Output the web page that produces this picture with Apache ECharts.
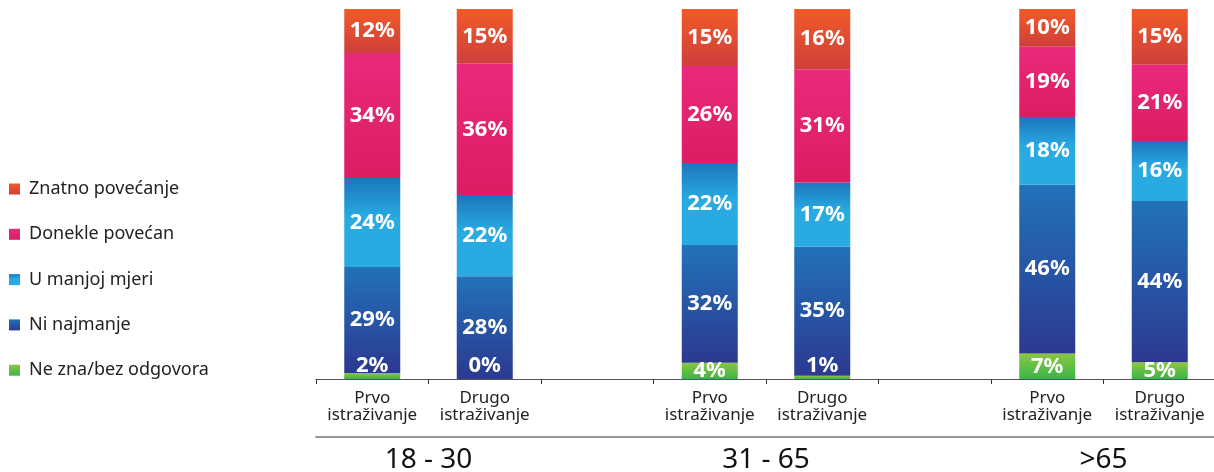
<!DOCTYPE html>
<html>
<head>
<meta charset="utf-8">
<script src="https://cdn.jsdelivr.net/npm/echarts@6/dist/echarts.min.js"></script>
<style>
html,body{margin:0;padding:0;background:#fff;}
#chart{width:1214px;height:472px;}
</style>
</head>
<body>
<div id="chart"></div>
<script>
// Categories (empty slots separate the age groups)
const categories = ['Prvo\nistraživanje', 'Drugo\nistraživanje', '', 'Prvo\nistraživanje', 'Drugo\nistraživanje', '', 'Prvo\nistraživanje', 'Drugo\nistraživanje'];
const groupLabels = ['18 - 30', '31 - 65', '>65'];
const seriesNames = ['Ne zna/bez odgovora', 'Ni najmanje', 'U manjoj mjeri', 'Donekle povećan', 'Znatno povećanje'];

// Series values (%)
const neZna     = [1.6, 0.0, null, 4.4, 0.9, null, 6.9, 4.5];
const niNajmanje = [28.7, 27.8, null, 31.8, 34.9, null, 45.6, 43.6];
const uManjoj   = [24.0, 21.9, null, 22.2, 17.3, null, 18.3, 16.2];
const donekle   = [33.8, 35.5, null, 26.2, 30.6, null, 19.0, 20.6];
const znatno    = [11.9, 14.8, null, 15.4, 16.3, null, 10.2, 15.1];

const seriesValues = [neZna, niNajmanje, uManjoj, donekle, znatno];

function grad(top, bottom) {
  return new echarts.graphic.LinearGradient(0, 0, 0, 1, [
    {offset: 0, color: top}, {offset: 1, color: bottom}
  ]);
}
const colors = [
  grad('#8cc63f', '#39b54a'),
  grad('#2272b9', '#2c3990'),
  new echarts.graphic.LinearGradient(0, 0, 0, 1, [
    {offset: 0, color: '#1c76bd'}, {offset: 0.45, color: '#29abe2'}, {offset: 1, color: '#29abe2'}
  ]),
  grad('#e9297b', '#dc1d62'),
  grad('#f15a29', '#cf3f3b')
];

const series = seriesNames.map((name, i) => ({
  name: name,
  type: 'bar',
  stack: 'total',
  barWidth: 56,
  itemStyle: {color: colors[i]},
  label: {
    show: true,
    position: 'inside',
    color: '#fff',
    fontFamily: 'Noto Sans',
    fontWeight: 'bold',
    fontSize: 22,
    formatter: p => (p.value == null ? '' : Math.round(p.value) + '%')
  },
  data: seriesValues[i].map(v => {
    if (v == null) return '-';
    if (i === 0 && v < 3) {
      return {value: v, label: {position: 'insideBottom', distance: 2}};
    }
    return v;
  })
}));

const chart = echarts.init(document.getElementById('chart'), null, {renderer: 'canvas'});
chart.setOption({
  backgroundColor: '#fff',
  animation: false,
  legend: {
    orient: 'vertical',
    left: 4,
    top: 174,
    itemWidth: 11,
    itemHeight: 11,
    itemGap: 25.3,
    icon: 'rect',
    data: seriesNames.slice().reverse(),
    textStyle: {
      fontFamily: 'Noto Sans',
      fontSize: 18,
      color: '#222',
      lineHeight: 20,
      padding: [0, 0, 0, 4]
    }
  },
  grid: {left: 316, top: 9, width: 900, bottom: 93, containLabel: false, outerBoundsMode: 'none'},
  xAxis: [
    {
      type: 'category',
      data: categories,
      position: 'bottom',
      axisLine: {show: true, lineStyle: {color: '#555', width: 1}},
      axisTick: {show: true, length: 5, lineStyle: {color: '#333'}},
      axisLabel: {
        interval: 0,
        margin: 11,
        fontFamily: 'Noto Sans',
        fontSize: 17,
        lineHeight: 17,
        color: '#222'
      }
    },
    {
      type: 'value',
      min: 0,
      max: categories.length,
      position: 'bottom',
      offset: 58,
      axisLine: {show: true, lineStyle: {color: '#999', width: 2}},
      axisTick: {show: false},
      splitLine: {show: false},
      axisLabel: {
        customValues: groupLabels.map((g, i) => i * 3 + 1),
        margin: 9,
        fontFamily: 'Noto Sans',
        fontSize: 28,
        color: '#111',
        formatter: v => groupLabels[Math.round((v - 1) / 3)] || ''
      }
    }
  ],
  yAxis: {type: 'value', min: 0, max: 100, show: false},
  series: series
});
</script>
</body>
</html>
